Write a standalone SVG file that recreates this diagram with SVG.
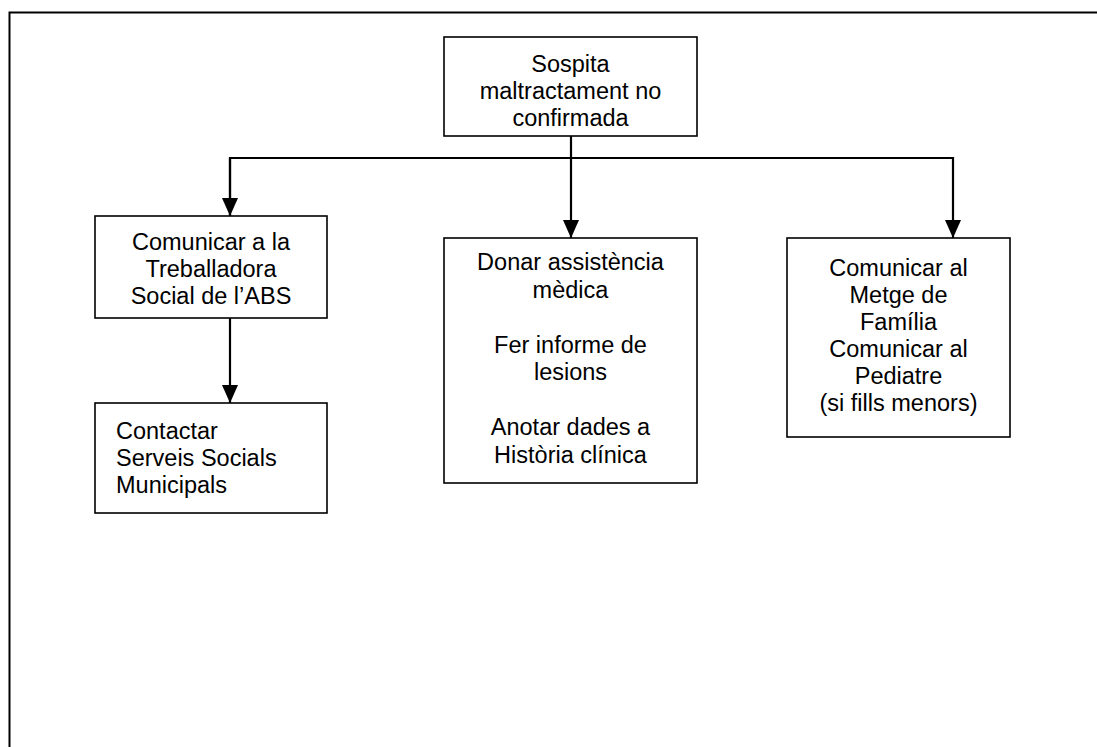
<svg xmlns="http://www.w3.org/2000/svg" width="1097" height="747" viewBox="0 0 1097 747">
<style>
.box{fill:#fff;stroke:#000;stroke-width:1.6}
.t{font-family:"Liberation Sans",Arial,sans-serif;font-size:23.5px;fill:#000;text-anchor:middle}
.tl{text-anchor:start}
.c{fill:none;stroke:#000;stroke-width:2.2}
</style>
<defs>
<marker id="ah" markerUnits="userSpaceOnUse" markerWidth="16" markerHeight="18" refX="8" refY="18" orient="auto" viewBox="0 0 16 18">
<path d="M0,0 L16,0 L8,18 Z" fill="#000" transform="rotate(-90 8 9) translate(0 0)"/>
</marker>
<marker id="arr" markerUnits="userSpaceOnUse" markerWidth="18" markerHeight="16" refX="18" refY="8" orient="auto" viewBox="0 0 18 16">
<path d="M0,0 L18,8 L0,16 Z" fill="#000"/>
</marker>
</defs>
<rect width="1097" height="747" fill="#fff"/>
<path d="M9.5,760 V12.5 H1110" fill="none" stroke="#000" stroke-width="2"/>
<g id="connectors">
<path class="c" d="M571,136 V238" marker-end="url(#arr)"/>
<path class="c" d="M230,216 V158 H953 V238" marker-end="url(#arr)"/>
<path class="c" d="M230,158 V216" marker-end="url(#arr)"/>
<path class="c" d="M230,318 V403" marker-end="url(#arr)"/>
</g>
<g id="n_top">
<rect class="box" x="444" y="37" width="253" height="99"/>
<text class="t" x="570.5" y="72">Sospita</text>
<text class="t" x="570.5" y="99">maltractament no</text>
<text class="t" x="570.5" y="126">confirmada</text>
</g>
<g id="n_left">
<rect class="box" x="95" y="216" width="232" height="102"/>
<text class="t" x="211" y="250">Comunicar a la</text>
<text class="t" x="211" y="277">Treballadora</text>
<text class="t" x="211" y="304">Social de l’ABS</text>
</g>
<g id="n_bottomleft">
<rect class="box" x="95" y="403" width="232" height="110"/>
<text class="t tl" x="116" y="439">Contactar</text>
<text class="t tl" x="116" y="466">Serveis Socials</text>
<text class="t tl" x="116" y="493">Municipals</text>
</g>
<g id="n_middle">
<rect class="box" x="444" y="238" width="253" height="245"/>
<text class="t" x="570.5" y="270">Donar assistència</text>
<text class="t" x="570.5" y="297.5">mèdica</text>
<text class="t" x="570.5" y="352.5">Fer informe de</text>
<text class="t" x="570.5" y="380">lesions</text>
<text class="t" x="570.5" y="435">Anotar dades a</text>
<text class="t" x="570.5" y="462.5">Història clínica</text>
</g>
<g id="n_right">
<rect class="box" x="787" y="238" width="223" height="199"/>
<text class="t" x="898.5" y="276">Comunicar al</text>
<text class="t" x="898.5" y="303">Metge de</text>
<text class="t" x="898.5" y="330">Família</text>
<text class="t" x="898.5" y="357">Comunicar al</text>
<text class="t" x="898.5" y="384">Pediatre</text>
<text class="t" x="898.5" y="411">(si fills menors)</text>
</g>
</svg>
